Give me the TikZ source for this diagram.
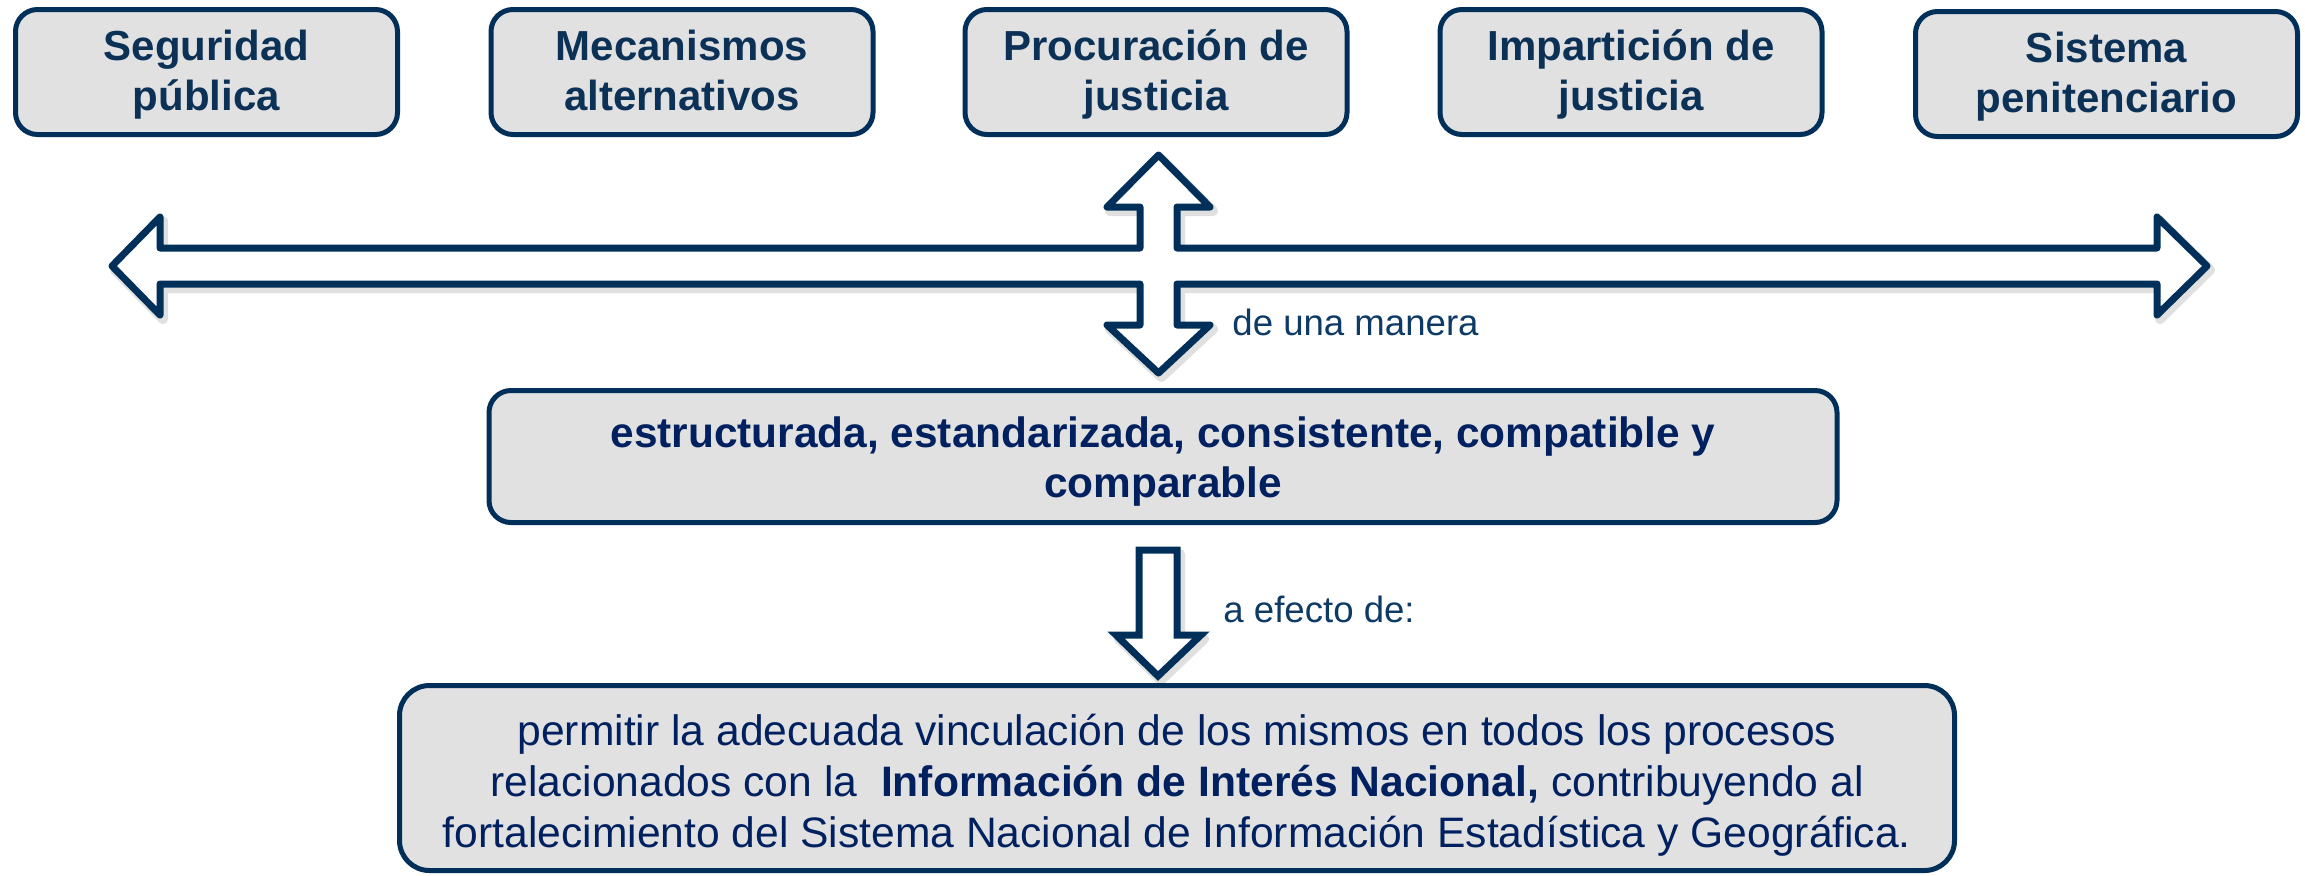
\documentclass[tikz,border=0pt]{standalone}
\usepackage{fontspec}
\setmainfont{Liberation Sans}
\definecolor{navy}{HTML}{00305A}
\definecolor{navytext}{HTML}{0B3157}
\definecolor{bluetext}{HTML}{002060}
\definecolor{labeltext}{HTML}{0E3A66}
\definecolor{boxgray}{HTML}{E1E1E1}
\tikzset{
  boxbase/.style={draw=navy, line width=2.5pt, fill=boxgray, inner sep=0pt, align=center},
  topbox/.style={boxbase, rounded corners=11pt, minimum width=191pt, minimum height=62.5pt,
    font=\bfseries\fontsize{21}{25}\selectfont, text=navytext, text height=43.5pt, text depth=5pt},
  midbox/.style={boxbase, rounded corners=11pt, minimum width=674pt, minimum height=66pt,
    font=\bfseries\fontsize{21.2}{25}\selectfont, text=bluetext, text height=45.5pt, text depth=5pt},
  lowbox/.style={boxbase, rounded corners=15pt, minimum width=777.5pt, minimum height=92.5pt,
    font=\fontsize{21.3}{25.5}\selectfont, text=bluetext, text height=74pt, text depth=5pt},
  lbl/.style={anchor=base west, inner sep=0pt, font=\fontsize{18.3}{22}\selectfont, text=labeltext},
  blockarrow/.style={draw=navy, fill=white, line width=3.5pt, line join=round},
  blockshadow/.style={draw=black, opacity=0.12, line width=5pt, line join=round}
}
\def\crossarrowpath{(112,266) -- (160,217) -- (160,248) -- (1140,248) -- (1140,207) -- (1107,207) -- (1158.5,155) -- (1210,207) -- (1177,207) -- (1177,248) -- (2157,248) -- (2157,217) -- (2207,266) -- (2157,315) -- (2157,284) -- (1177,284) -- (1177,325) -- (1210,325) -- (1158.5,373) -- (1107,325) -- (1140,325) -- (1140,284) -- (160,284) -- (160,315) -- cycle}
\def\downarrowpath{(1139,550) -- (1177,550) -- (1177,635) -- (1201,635) -- (1158,676) -- (1116,635) -- (1139,635) -- cycle}
\begin{document}
\begin{tikzpicture}[x=0.5pt,y=-0.5pt]
\useasboundingbox (0,0) rectangle (2305,875);
% top boxes
\node[topbox] (seg) at (206.5,72) {Seguridad\\pública};
\node[topbox] (mec) at (682,72) {Mecanismos\\alternativos};
\node[topbox] (proc) at (1156,72) {Procuración de\\justicia};
\node[topbox] (imp) at (1631,72) {Impartición de\\justicia};
\node[topbox] (sis) at (2106.5,74) {Sistema\\penitenciario};
% cross arrow
\begin{scope}[shift={(3,4)}]
\draw[blockshadow] \crossarrowpath;
\end{scope}
\draw[blockarrow] \crossarrowpath;
\node[lbl] (l1) at (1232,335) {de una manera};
% middle box
\node[midbox] (mid) at (1163,456.5) {estructurada, estandarizada, consistente, compatible y\\comparable};
% down arrow
\begin{scope}[shift={(3,4)}]
\draw[blockshadow] \downarrowpath;
\end{scope}
\draw[blockarrow, line join=miter] \downarrowpath;
\node[lbl] (l2) at (1223,622) {a efecto de:};
% bottom box
\node[lowbox] (low) at (1177,778) {permitir la adecuada vinculación de los mismos en todos los procesos\\relacionados con la\ \ \textbf{Información de Interés Nacional,} contribuyendo al\\fortalecimiento del Sistema Nacional de Información Estadística y Geográfica.};
\end{tikzpicture}
\end{document}
